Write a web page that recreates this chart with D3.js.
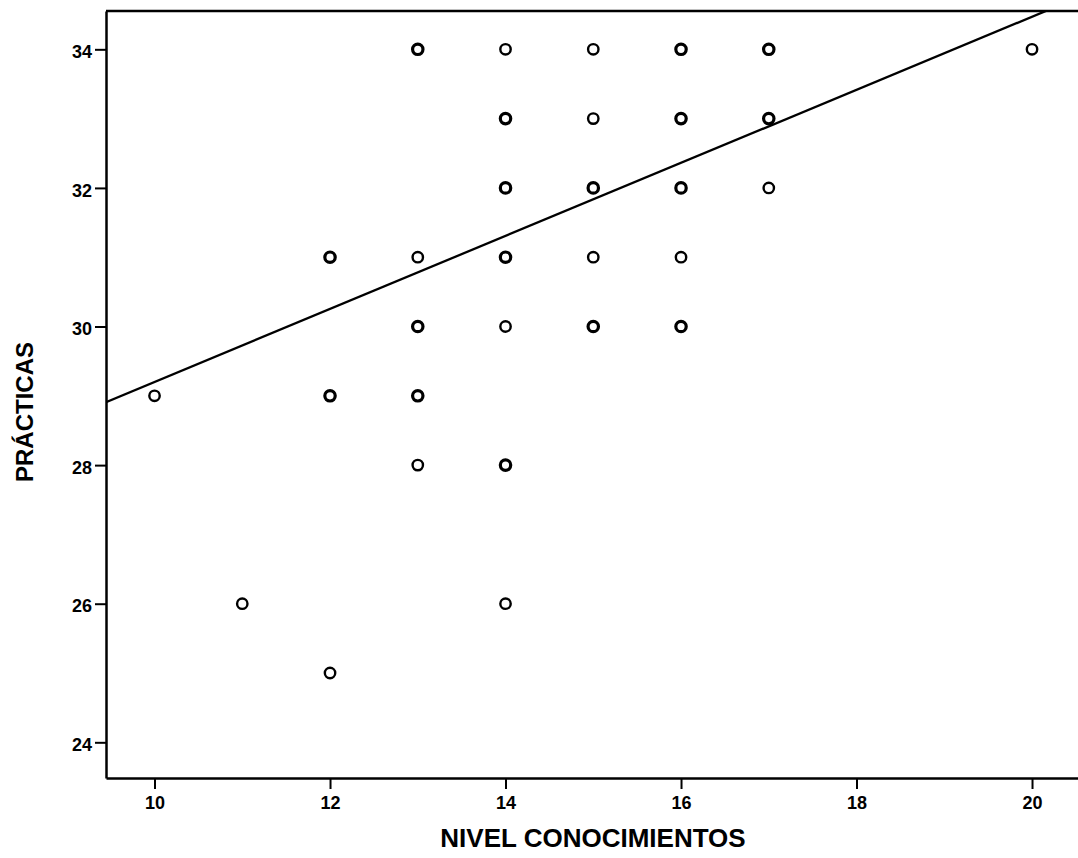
<!DOCTYPE html>
<html>
<head>
<meta charset="utf-8">
<script src="https://cdn.jsdelivr.net/npm/d3@7"></script>
<style>
  body { margin: 0; background: #fff; }
  svg { display: block; font-family: "Liberation Sans", Arial, sans-serif; }
</style>
</head>
<body>
<div id="chart"></div>
<script>
// data: knowledge score vs practices score
// n > 1 where the marker looks heavier (overplotted cases)
var conocimientos = [10, 11, 12, 12, 12, 13, 13, 13, 13, 13, 14, 14, 14, 14, 14, 14, 14,
                     15, 15, 15, 15, 15, 16, 16, 16, 16, 16, 17, 17, 17, 20];
var practicas     = [29, 26, 31, 29, 25, 34, 31, 30, 29, 28, 34, 33, 32, 31, 30, 28, 26,
                     34, 33, 32, 31, 30, 34, 33, 32, 31, 30, 34, 33, 32, 34];
var casos         = [1, 1, 2, 2, 1, 2, 1, 2, 2, 1, 1, 2, 2, 2, 1, 2, 1,
                     1, 1, 2, 1, 2, 2, 2, 2, 1, 2, 2, 2, 1, 1];
var xTicks = [10, 12, 14, 16, 18, 20];
var yTicks = [24, 26, 28, 30, 32, 34];
// fitted line (linear): practicas = a + b * conocimientos
var ajuste = [23.93, 0.527];

var layout = {
    "width": 1078,
    "height": 858,
    "left": 106, "right": 1078, "top": 11, "bottom": 778
};

var points = conocimientos.map(function(x, i) {
    return {x: x, y: practicas[i], n: casos[i]};
});

var svg = d3.select("#chart").append("svg")
    .attr("width", layout.width)
    .attr("height", layout.height);

var x = d3.scaleLinear()
    .domain([9.447, 20.524])
    .range([layout.left, layout.right]);

var y = d3.scaleLinear()
    .domain([23.485, 34.553])
    .range([layout.bottom, layout.top]);

svg.append("clipPath").attr("id", "plot")
    .append("rect")
    .attr("x", layout.left).attr("y", layout.top)
    .attr("width", layout.right - layout.left)
    .attr("height", layout.bottom - layout.top);

// top frame line (right side runs off the page)
svg.append("line")
    .attr("x1", layout.left).attr("x2", layout.right)
    .attr("y1", layout.top).attr("y2", layout.top)
    .attr("stroke", "#000").attr("stroke-width", 2.5);

// axes
var xAxis = svg.append("g")
    .attr("transform", "translate(0," + layout.bottom + ")")
    .call(d3.axisBottom(x).tickValues(xTicks).tickSize(11).tickPadding(7).tickSizeOuter(0));

var yAxis = svg.append("g")
    .attr("transform", "translate(" + layout.left + ",0)")
    .call(d3.axisLeft(y).tickValues(yTicks).tickSize(11).tickPadding(3).tickSizeOuter(0));

[xAxis, yAxis].forEach(function(g) {
    g.select(".domain").attr("stroke", "#000").attr("stroke-width", 2.5);
    g.selectAll(".tick line").attr("stroke", "#000").attr("stroke-width", 2);
    g.selectAll(".tick text")
        .attr("fill", "#000")
        .style("font-size", "18px")
        .style("font-weight", "bold")
        .style("font-family", "'Liberation Sans', Arial, sans-serif");
});
yAxis.selectAll(".tick text").attr("dy", "0.45em");

// regression line
var x0 = x.domain()[0], x1 = x.domain()[1];
svg.append("line")
    .attr("clip-path", "url(#plot)")
    .attr("x1", x(x0)).attr("y1", y(ajuste[0] + ajuste[1] * x0))
    .attr("x2", x(x1)).attr("y2", y(ajuste[0] + ajuste[1] * x1))
    .attr("stroke", "#000")
    .attr("stroke-width", 2.3);

// points
svg.selectAll("circle.pt")
    .data(points)
    .enter()
    .append("circle")
    .attr("class", "pt")
    .attr("cx", d => x(d.x))
    .attr("cy", d => y(d.y))
    .attr("r", 5.2)
    .attr("fill", "none")
    .attr("stroke", "#000")
    .attr("stroke-width", d => d.n > 1 ? 3.2 : 2.4);

// axis titles
svg.append("text")
    .attr("x", 593)
    .attr("y", 847)
    .attr("text-anchor", "middle")
    .style("font-size", "26px")
    .style("font-weight", "bold")
    .text("NIVEL CONOCIMIENTOS");

svg.append("text")
    .attr("transform", "translate(33,412) rotate(-90)")
    .attr("text-anchor", "middle")
    .style("font-size", "24px")
    .style("font-weight", "bold")
    .text("PRÁCTICAS");
</script>
</body>
</html>
